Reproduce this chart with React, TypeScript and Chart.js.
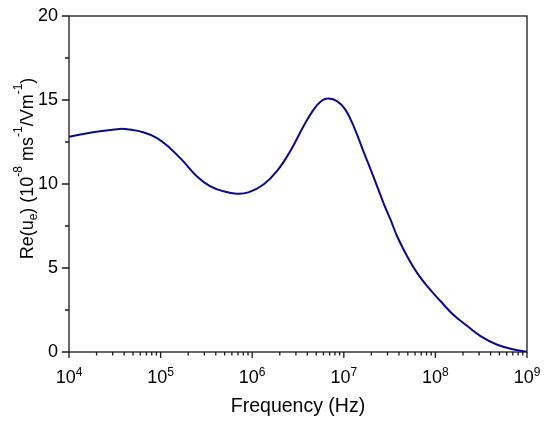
import React, { useEffect, useRef } from "react"
import { Chart, registerables } from "chart.js"

Chart.register(...registerables)

// (frequency in Hz, Re(ue) in 1e-8 m s^-1 / V m^-1)
const frequencies = [
  1e4, 1.82e4, 3.59e4, 4.61e4, 6.46e4, 9.04e4, 1.26e5, 1.77e5, 2.48e5, 3.46e5,
  4.84e5, 6.76e5, 9.08e5, 1.33e6, 1.86e6, 2.6e6, 3.63e6, 4.68e6, 5.77e6, 6.82e6,
  8.43e6, 1.04e7, 1.28e7, 1.65e7, 2.12e7, 2.72e7, 3.23e7, 3.82e7, 4.91e7, 6.31e7,
  8.13e7, 1.14e8, 1.58e8, 2.23e8, 3.11e8, 4.74e8, 7.21e8, 1e9,
]
const reUe = [
  12.81, 13.08, 13.28, 13.24, 13.08, 12.75, 12.15, 11.35, 10.46, 9.87,
  9.57, 9.42, 9.5, 9.97, 10.76, 11.95, 13.44, 14.43, 14.97, 15.09,
  14.93, 14.43, 13.44, 11.9, 10.4, 8.85, 7.89, 6.89, 5.7, 4.71,
  3.92, 3.02, 2.2, 1.55, 0.95, 0.43, 0.15, 0.02,
]
const xDecades = [4, 5, 6, 7, 8, 9]
const yMajor = [0, 5, 10, 15, 20]
const yMinor = [2.5, 7.5, 12.5, 17.5]

const FONT = '"Liberation Sans", Arial, sans-serif'
const AXIS = "#1a1a1a"

type Part = { t: string; size: number; dy: number }

const drawRich = (ctx: CanvasRenderingContext2D, parts: Part[], x: number, y: number) => {
  let total = 0
  parts.forEach((p) => {
    ctx.font = `${p.size}px ${FONT}`
    total += ctx.measureText(p.t).width
  })
  let cx = x - total / 2
  parts.forEach((p) => {
    ctx.font = `${p.size}px ${FONT}`
    ctx.fillText(p.t, cx, y + p.dy)
    cx += ctx.measureText(p.t).width
  })
}

const framePlugin = {
  id: "frame",
  afterDraw(chart: any) {
    const { ctx, chartArea, scales } = chart
    const xs = scales.x
    const ys = scales.y
    const { left, right, top, bottom } = chartArea
    ctx.save()
    ctx.strokeStyle = AXIS
    ctx.lineWidth = 1.3
    ctx.strokeRect(left, top, right - left, bottom - top)

    ctx.beginPath()
    xDecades.forEach((d, i) => {
      const px = xs.getPixelForValue(Math.pow(10, d))
      ctx.moveTo(px, bottom)
      ctx.lineTo(px, bottom + 6)
      if (i < xDecades.length - 1) {
        for (let k = 2; k <= 9; k++) {
          const mx = xs.getPixelForValue(k * Math.pow(10, d))
          ctx.moveTo(mx, bottom)
          ctx.lineTo(mx, bottom + 3.5)
        }
      }
    })
    yMajor.forEach((v) => {
      const py = ys.getPixelForValue(v)
      ctx.moveTo(left, py)
      ctx.lineTo(left - 7, py)
    })
    yMinor.forEach((v) => {
      const py = ys.getPixelForValue(v)
      ctx.moveTo(left, py)
      ctx.lineTo(left - 4, py)
    })
    ctx.stroke()

    ctx.fillStyle = "#000"
    ctx.textAlign = "left"
    ctx.textBaseline = "alphabetic"
    xDecades.forEach((d) => {
      const px = xs.getPixelForValue(Math.pow(10, d))
      drawRich(ctx, [
        { t: "10", size: 18, dy: 0 },
        { t: String(d), size: 12, dy: -7 },
      ], px, bottom + 31)
    })

    ctx.translate(27, 168.5)
    ctx.rotate(-Math.PI / 2)
    drawRich(ctx, [
      { t: "Re(u", size: 18, dy: 0 },
      { t: "e", size: 12, dy: 4 },
      { t: ") (10", size: 18, dy: 0 },
      { t: "-8", size: 12, dy: -11 },
      { t: " ms", size: 18, dy: 0 },
      { t: "-1", size: 12, dy: -11 },
      { t: "/Vm", size: 18, dy: 0 },
      { t: "-1", size: 12, dy: -11 },
      { t: ")", size: 18, dy: 0 },
    ], 0, 6)
    ctx.restore()
  },
}

const App: React.FC = () => {
  const chartRef = useRef<HTMLCanvasElement>(null)

  useEffect(() => {
    const ctx = chartRef.current?.getContext("2d")
    if (!ctx) return

    const chart = new Chart(ctx, {
      type: "line",
      data: {
        datasets: [
          {
            data: frequencies.map((f, i) => ({ x: f, y: reUe[i] })),
            borderColor: "#0a0a8c",
            borderWidth: 2,
            pointRadius: 0,
            fill: false,
            tension: 0.4,
          },
        ],
      },
      options: {
        responsive: true,
        maintainAspectRatio: false,
        animation: false,
        layout: { padding: { top: 16, right: 23, left: 0, bottom: 0 } },
        plugins: { legend: { display: false }, tooltip: { enabled: false } },
        scales: {
          x: {
            type: "logarithmic",
            min: 1e4,
            max: 1e9,
            grid: { display: false },
            border: { display: false },
            ticks: { display: false },
            title: {
              display: true,
              text: "Frequency (Hz)",
              color: "#000",
              font: { family: FONT, size: 19.5 },
              padding: { top: 0, bottom: 7 },
            },
            afterFit: (scale: any) => {
              scale.height = 73
            },
          },
          y: {
            min: 0,
            max: 20,
            grid: { display: false },
            border: { display: false },
            ticks: {
              stepSize: 5,
              color: "#000",
              font: { family: FONT, size: 18 },
              padding: 3,
            },
            afterFit: (scale: any) => {
              scale.width = 69
            },
          },
        },
      },
      plugins: [framePlugin],
    })

    return () => {
      chart.destroy()
    }
  }, [])

  return (
    <div style={{ position: "absolute", left: 0, top: 0, width: 550, height: 425, background: "#fff" }}>
      <canvas ref={chartRef}></canvas>
    </div>
  )
}

export default App
